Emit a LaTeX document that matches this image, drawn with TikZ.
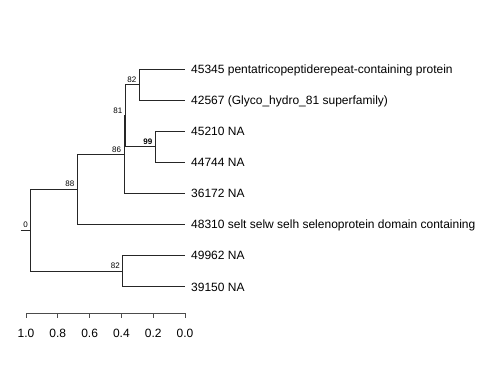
\documentclass[tikz,border=0pt]{standalone}
\usepackage{fontspec}
\setmainfont{Liberation Sans}
\usetikzlibrary{positioning}

\begin{document}
\begin{tikzpicture}[x=1pt, y=-1pt,
  br/.style={draw=black!85, line width=0.8pt},
  leaf/.style={anchor=base west, inner sep=0pt, xshift=6pt, yshift=-4.3pt, font=\fontsize{12}{14}\selectfont},
  lbl/.style={anchor=south east, inner sep=0pt, xshift=-2.8pt, yshift=2pt, font=\fontsize{8}{9}\selectfont},
  axisline/.style={draw=black!70, line width=0.8pt},
  ticklbl/.style={inner sep=0pt, font=\fontsize{12}{14}\selectfont},
]
\useasboundingbox (0,0) rectangle (480,384);

% internal nodes
\coordinate (stub) at (20.7,230);
\coordinate (root) at (30.7,230);
\coordinate (n88)  at (77.3,189.1);
\coordinate (n86)  at (124,154.3);
\coordinate (n81)  at (125.3,115.6);
\coordinate (n82a) at (139.3,84.6);
\coordinate (n99)  at (155.3,146.8);
\coordinate (n82b) at (122.7,271.2);

% tips
\coordinate (e1) at (185,69);
\coordinate (e2) at (185,100.1);
\coordinate (e3) at (185,131.2);
\coordinate (e4) at (185,162.3);
\coordinate (e5) at (185,193.4);
\coordinate (e6) at (185,224.5);
\coordinate (e7) at (185,255.6);
\coordinate (e8) at (185,286.7);

\node[leaf] (l45345) at (e1) {45345 pentatricopeptiderepeat-containing protein};
\node[leaf] (l42567) at (e2) {42567 (Glyco\_hydro\_81 superfamily)};
\node[leaf] (l45210) at (e3) {45210 NA};
\node[leaf] (l44744) at (e4) {44744 NA};
\node[leaf] (l36172) at (e5) {36172 NA};
\node[leaf] (l48310) at (e6) {48310 selt selw selh selenoprotein domain containing};
\node[leaf] (l49962) at (e7) {49962 NA};
\node[leaf] (l39150) at (e8) {39150 NA};

% branches
\draw[br] (stub) -- (root);
\draw[br] (root) |- (n88);
\draw[br] (root) |- (n82b);
\draw[br] (n88) |- (n86);
\draw[br] (n88) |- (e6);
\draw[br] (n86) |- (n81);
\draw[br] (n86) |- (e5);
\draw[br] (n81) |- (n82a);
\draw[br] (n81) |- (n99);
\draw[br] (n82a) |- (e1);
\draw[br] (n82a) |- (e2);
\draw[br] (n99) |- (e3);
\draw[br] (n99) |- (e4);
\draw[br] (n82b) |- (e7);
\draw[br] (n82b) |- (e8);

% support values
\node[lbl] (s0)   at (root) {0};
\node[lbl] (s88)  at (n88)  {88};
\node[lbl] (s86)  at (n86)  {86};
\node[lbl] (s81)  at (n81)  {81};
\node[lbl] (s82a) at (n82a) {82};
\node[lbl] (s99)  at (n99)  {\textbf{99}};
\node[lbl] (s82b) at (n82b) {82};

% scale
\coordinate (ax0) at (26,313);
\coordinate (ax1) at (185,313);
\draw[axisline] (ax0) -- (ax1);
\foreach \v [count=\i from 0] in {1.0,0.8,0.6,0.4,0.2,0.0} {
  \coordinate (k\i) at (26+31.8*\i,313);
  \draw[axisline] (k\i) -- ++(0,5.3);
  \node[ticklbl] (t\i) at (26+31.8*\i,333) {\v};
}
\end{tikzpicture}
\end{document}
